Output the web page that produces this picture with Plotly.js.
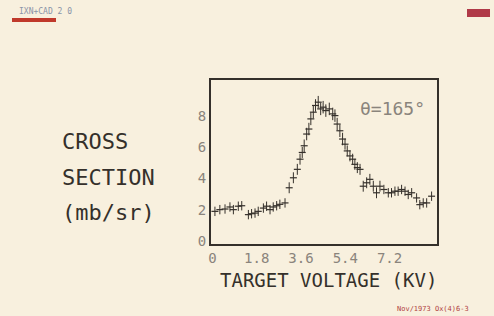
<!DOCTYPE html>
<html><head><meta charset="utf-8">
<script src="https://cdn.plot.ly/plotly-3.0.1.min.js"></script>
<style>html,body{margin:0;padding:0;background:#f8f0de;}</style>
</head><body>
<div id="plot" style="width:494px;height:316px;"></div>
<script>
const voltage = [0.10,0.30,0.51,0.71,0.85,1.05,1.19,1.46,1.59,1.73,1.86,2.07,2.20,2.34,2.47,2.61,2.74,2.95,3.12,3.29,3.45,3.56,3.65,3.73,3.83,3.92,4.00,4.10,4.19,4.30,4.40,4.50,4.61,4.75,4.89,4.98,5.07,5.18,5.29,5.39,5.48,5.59,5.70,5.79,5.89,6.00,6.13,6.27,6.40,6.54,6.67,6.81,6.97,7.15,7.28,7.42,7.55,7.69,7.83,7.96,8.10,8.30,8.43,8.57,8.71,8.91];
const crossSection = [1.89,2.00,2.04,2.17,2.00,2.22,2.25,1.68,1.74,1.78,1.89,2.10,2.22,2.00,2.17,2.25,2.34,2.43,3.40,4.04,4.58,5.23,5.66,6.09,6.84,7.16,7.81,8.24,8.67,8.88,8.45,8.56,8.34,8.45,8.13,8.02,7.48,7.05,6.52,6.19,5.76,5.44,5.23,4.90,4.69,4.58,3.50,3.72,3.94,3.50,3.08,3.50,3.29,3.08,3.08,3.18,3.18,3.29,3.18,2.97,3.08,2.75,2.32,2.43,2.43,2.86];
const errors = [0.3,0.3,0.3,0.3,0.3,0.3,0.3,0.3,0.3,0.3,0.3,0.3,0.3,0.3,0.3,0.3,0.3,0.3,0.35,0.35,0.35,0.35,0.35,0.4,0.4,0.4,0.4,0.4,0.4,0.4,0.4,0.4,0.4,0.4,0.4,0.4,0.4,0.4,0.4,0.35,0.35,0.35,0.35,0.35,0.35,0.35,0.35,0.35,0.35,0.35,0.35,0.35,0.3,0.3,0.3,0.3,0.3,0.3,0.3,0.3,0.3,0.3,0.3,0.3,0.3,0.3];
const xTicks = [0,1.8,3.6,5.4,7.2];
const xTickText = ['0','1.8','3.6','5.4','7.2'];
const yTicks = [0,2,4,6,8];
const yTickText = ['0','2','4','6','8'];

const W=494,H=316,L=211,R=437,T=80,B=244;
const px = X => (X-L)/(R-L);
const py = Y => (B-Y)/(B-T);
const mono = '"DejaVu Sans Mono", "Liberation Mono", monospace';
const ink = '#35302b';
const grey = '#8a847c';
const bg = '#f8f0de';

const trace = {
  x: voltage, y: crossSection, type:'scatter', mode:'markers',
  marker:{symbol:'line-ew', size:5, line:{color:ink, width:1.2}, color:ink},
  error_y:{type:'data', array:errors, visible:true, color:ink, thickness:1, width:0},
  hoverinfo:'none'
};

function lab(text, X, Y, size, color, anchor){
  return {text:text, xref:'paper', yref:'paper', x:px(X), y:py(Y), xanchor:anchor||'left', yanchor:'middle',
    showarrow:false, font:{family:mono, size:size, color:color}};
}

const layout = {
  width:W, height:H,
  margin:{l:L, r:W-R, t:T, b:H-B, pad:0},
  paper_bgcolor:bg, plot_bgcolor:bg,
  showlegend:false,
  xaxis:{range:[-0.06,9.13], tickvals:xTicks, ticktext:xTickText, showgrid:false, zeroline:false,
    showline:true, mirror:true, linecolor:ink, linewidth:2, ticks:'',
    tickfont:{family:mono, size:14, color:grey}},
  yaxis:{range:[-0.2,10.3], tickvals:yTicks, ticktext:yTickText, showgrid:false, zeroline:false,
    showline:true, mirror:true, linecolor:ink, linewidth:2, ticks:'',
    tickfont:{family:mono, size:14, color:grey}},
  annotations:[
    lab('TARGET VOLTAGE (KV)',218,280,19,ink),
    lab('CROSS',60,141,22,ink),
    lab('SECTION',60,177,22,ink),
    lab('(mb/sr)',60,212,22,ink),
    lab('θ=165°',358,108,18,grey),
    lab('IXN+CAD 2 0',17,11,8,'#8a93a8'),
    lab('Nov/1973 Ox(4)6-3',395,309,7,'#b04040')
  ],
  shapes:[
    {type:'rect', xref:'paper', yref:'paper', x0:px(12), x1:px(56), y0:py(22), y1:py(18), fillcolor:'#c0392b', line:{width:0}},
    {type:'rect', xref:'paper', yref:'paper', x0:px(467), x1:px(490), y0:py(17), y1:py(9), fillcolor:'#b03a48', line:{width:0}}
  ]
};
Plotly.newPlot('plot',[trace],layout,{displayModeBar:false, staticPlot:true});
</script>
</body></html>
